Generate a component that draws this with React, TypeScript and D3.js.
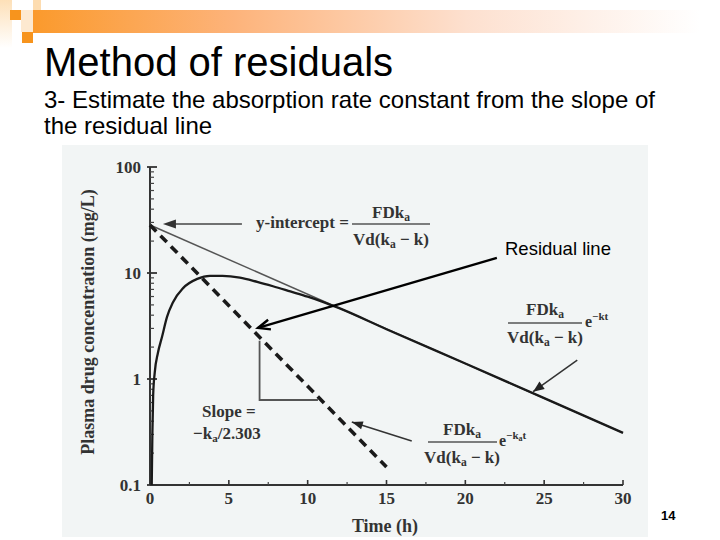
import React from "react";
import * as d3 from "d3";

// ---- data ----
const xTicks = [0, 5, 10, 15, 20, 25, 30];
const xMinorTicks = [2.5, 7.5, 12.5, 17.5, 22.5, 27.5];
const yTicks = [0.1, 1, 10, 100];
const yTickLabels = ["0.1", "1", "10", "100"];

// observed plasma curve (time h, conc mg/L)
const curveTime = [0.11, 0.15, 0.2, 0.3, 0.5, 0.76, 1.08, 1.46, 2.1, 3.0, 3.8, 4.6, 5.7, 6.8, 7.8, 8.9, 10, 11, 12, 15, 20, 25, 30];
const curveConc = [0.1, 0.3, 0.7, 1.15, 1.76, 2.49, 3.85, 5.3, 7.2, 8.8, 9.4, 9.4, 9.05, 8.25, 7.5, 6.7, 5.98, 5.32, 4.66, 2.95, 1.4, 0.66, 0.31];

// extrapolated terminal line
const terminalTime = [0, 30];
const terminalConc = [28.4, 0.31];

// residual line (dashed)
const residualTime = [0, 15];
const residualConc = [28.4, 0.148];

// slope triangle
const slopeTime = [6.95, 6.95, 10.65];
const slopeConc = [2.3, 0.634, 0.634];

const SERIF = "'Liberation Serif', 'Times New Roman', serif";
const SANS = "'Liberation Sans', Arial, sans-serif";

const x = d3.scaleLinear().domain([0, 30]).range([150, 623]);
const y = d3.scaleLog().domain([0.1, 100]).range([485, 167]);

const line = d3
  .line<[number, number]>()
  .x((d) => x(d[0]))
  .y((d) => y(d[1]));

const zip = (a: number[], b: number[]) => a.map((v, i) => [v, b[i]] as [number, number]);

function head(x1: number, y1: number, x2: number, y2: number, len: number, hw: number) {
  const a = Math.atan2(y2 - y1, x2 - x1);
  const bx = x2 - len * Math.cos(a);
  const by = y2 - len * Math.sin(a);
  const px = -Math.sin(a) * hw;
  const py = Math.cos(a) * hw;
  return `M${x2},${y2}L${bx + px},${by + py}L${bx - px},${by - py}Z`;
}
function openHead(x1: number, y1: number, x2: number, y2: number, len: number, hw: number) {
  const a = Math.atan2(y2 - y1, x2 - x1);
  const bx = x2 - len * Math.cos(a);
  const by = y2 - len * Math.sin(a);
  const px = -Math.sin(a) * hw;
  const py = Math.cos(a) * hw;
  return `M${bx + px},${by + py}L${x2},${y2}L${bx - px},${by - py}`;
}

const TXT = "#333";

function Frac({ cx, lineY, x1, x2, numY, denY, size }: any) {
  const sub = size * 0.68;
  return (
    <g fontFamily={SERIF} fontWeight="bold" fill={TXT} fontSize={size}>
      <text x={cx} y={numY} textAnchor="middle">
        FDk<tspan fontSize={sub} dy={3}>a</tspan>
      </text>
      <line x1={x1} x2={x2} y1={lineY} y2={lineY} stroke="#555" strokeWidth={1.3} />
      <text x={cx} y={denY} textAnchor="middle">
        Vd(k<tspan fontSize={sub} dy={3}>a</tspan>
        <tspan dy={-3}> − k)</tspan>
      </text>
    </g>
  );
}

export default function App() {
  const curvePts = zip(curveTime, curveConc);
  const termPts = zip(terminalTime, terminalConc);
  const resPts = zip(residualTime, residualConc);
  const slopePts = zip(slopeTime, slopeConc);
  const curvePath = d3
    .line<[number, number]>()
    .x((d) => x(d[0]))
    .y((d) => y(d[1]))
    .curve(d3.curveMonotoneX)(curvePts) as string;

  const minorY = y.ticks().filter((v) => !yTicks.some((t) => Math.abs(t - v) < 1e-9));

  // annotation anchors in data units
  const yi = { t1: 5.83, c1: 29, t2: 0.82, c2: 29 };
  const ra = { t1: 22.0, c1: 13.9, t2: 6.85, c2: 3.03 };
  const a2 = { t1: 27.1, c1: 1.51, t2: 24.3, c2: 0.76 };
  const a3 = { t1: 16.6, c1: 0.26, t2: 12.8, c2: 0.393 };

  return (
    <svg width={720} height={540} style={{ position: "absolute", left: 0, top: 0 }}>
      <defs>
        <linearGradient id="barGrad" x1="0" x2="1" y1="0" y2="0">
          <stop offset="0" stopColor="#fb9a2c" />
          <stop offset="0.3" stopColor="#fdb37a" />
          <stop offset="0.65" stopColor="#fde0cf" />
          <stop offset="1" stopColor="#ffffff" />
        </linearGradient>
        <linearGradient id="leftGrad" x1="0" x2="0" y1="0" y2="1">
          <stop offset="0" stopColor="#fde0b8" />
          <stop offset="1" stopColor="#ffffff" />
        </linearGradient>
      </defs>
      <rect width={720} height={540} fill="#ffffff" />
      {/* decoration */}
      <rect x={0} y={0} width={12} height={48} fill="url(#leftGrad)" />
      <rect x={33} y={0} width={8} height={10} fill="#fddcb0" />
      <rect x={21} y={10} width={12} height={22} fill="#fde9d0" />
      <rect x={10} y={10} width={11} height={10} fill="#f7941d" />
      <rect x={22} y={32} width={11} height={11} fill="#f7941d" />
      <rect x={33} y={10} width={667} height={23} fill="url(#barGrad)" />

      {/* titles */}
      <text x={44} y={76} fontFamily={SANS} fontSize={40} fill="#000">
        Method of residuals
      </text>
      <text x={44} y={108} fontFamily={SANS} fontSize={24} fill="#000">
        3- Estimate the absorption rate constant from the slope of
      </text>
      <text x={44} y={134} fontFamily={SANS} fontSize={24} fill="#000">
        the residual line
      </text>

      {/* figure panel */}
      <rect x={62} y={145} width={586} height={392} fill="#f2f5f5" />

      {/* axes */}
      <line x1={x(0)} x2={x(0)} y1={y(100)} y2={y(0.1)} stroke="#333" strokeWidth={2} />
      <line x1={x(0)} x2={x(30)} y1={y(0.1)} y2={y(0.1)} stroke="#333" strokeWidth={2} />
      {yTicks.map((t) => (
        <line key={"yt" + t} x1={x(0) - 3} x2={x(0) + 7} y1={y(t)} y2={y(t)} stroke="#333" strokeWidth={1.8} />
      ))}
      {minorY.map((t) => (
        <line key={"ym" + t} x1={x(0)} x2={x(0) + 4} y1={y(t)} y2={y(t)} stroke="#444" strokeWidth={1.2} />
      ))}
      {xTicks.map((t) => (
        <line key={"xt" + t} x1={x(t)} x2={x(t)} y1={y(0.1)} y2={y(0.1) - 5} stroke="#333" strokeWidth={1.6} />
      ))}
      {xMinorTicks.map((t) => (
        <line key={"xm" + t} x1={x(t)} x2={x(t)} y1={y(0.1)} y2={y(0.1) - 3} stroke="#444" strokeWidth={1.2} />
      ))}
      <g fontFamily={SERIF} fontWeight="bold" fontSize={17} fill={TXT}>
        {yTicks.map((t, i) => (
          <text key={"yl" + t} x={x(0) - 9} y={y(t) + 6} textAnchor="end">
            {yTickLabels[i]}
          </text>
        ))}
        {xTicks.map((t) => (
          <text key={"xl" + t} x={x(t)} y={y(0.1) + 19} textAnchor="middle">
            {t}
          </text>
        ))}
      </g>
      <text x={385} y={532} textAnchor="middle" fontFamily={SERIF} fontWeight="bold" fontSize={18} fill={TXT}>
        Time (h)
      </text>
      <text
        transform={`translate(94,322) rotate(-90)`}
        textAnchor="middle"
        fontFamily={SERIF}
        fontWeight="bold"
        fontSize={18}
        fill={TXT}
      >
        Plasma drug concentration (mg/L)
      </text>

      {/* lines */}
      <path d={line(termPts) as string} fill="none" stroke="#555" strokeWidth={1.5} />
      <path d={line(resPts) as string} fill="none" stroke="#1a1a1a" strokeWidth={3.6} strokeDasharray="9 6" />
      <path d={curvePath} fill="none" stroke="#1a1a1a" strokeWidth={2.3} />
      <path d={line(slopePts) as string} fill="none" stroke="#555" strokeWidth={1.8} />

      {/* y-intercept annotation */}
      <line x1={x(yi.t1)} y1={y(yi.c1)} x2={x(yi.t2) + 8} y2={y(yi.c2)} stroke="#444" strokeWidth={1.5} />
      <path d={head(x(yi.t1), y(yi.c1), x(yi.t2), y(yi.c2), 13, 4.5)} fill="#333" />
      <text x={256} y={228} fontFamily={SERIF} fontWeight="bold" fontSize={17} fill={TXT}>
        y-intercept =
      </text>
      <Frac cx={391} x1={352} x2={430} lineY={224} numY={218} denY={245} size={17} />

      {/* residual line annotation */}
      <line x1={x(ra.t1)} y1={y(ra.c1)} x2={x(ra.t2)} y2={y(ra.c2)} stroke="#000" strokeWidth={2.4} />
      <path d={openHead(x(ra.t1), y(ra.c1), x(ra.t2), y(ra.c2), 12, 5)} fill="none" stroke="#000" strokeWidth={2.4} />
      <text x={505} y={255} fontFamily={SANS} fontSize={18.5} fill="#000">
        Residual line
      </text>

      {/* terminal formula */}
      <Frac cx={545} x1={508} x2={582} lineY={323} numY={315} denY={343} size={17} />
      <text x={585} y={327} fontFamily={SERIF} fontWeight="bold" fontSize={16} fill={TXT}>
        e<tspan fontSize={11} dy={-7}>−kt</tspan>
      </text>
      <line x1={x(a2.t1)} y1={y(a2.c1)} x2={x(a2.t2)} y2={y(a2.c2)} stroke="#333" strokeWidth={1.5} />
      <path d={head(x(a2.t1), y(a2.c1), x(a2.t2), y(a2.c2), 11, 4.5)} fill="#222" />

      {/* slope text */}
      <g fontFamily={SERIF} fontWeight="bold" fontSize={17} fill={TXT}>
        <text x={202} y={417}>Slope =</text>
        <text x={193} y={439}>
          −k<tspan fontSize={11} dy={3}>a</tspan>
          <tspan dy={-3}>/2.303</tspan>
        </text>
      </g>

      {/* residual formula */}
      <Frac cx={462} x1={428} x2={497} lineY={442} numY={435} denY={463} size={17} />
      <text x={499} y={446} fontFamily={SERIF} fontWeight="bold" fontSize={16} fill={TXT}>
        e<tspan fontSize={11} dy={-7}>−k</tspan>
        <tspan fontSize={8} dy={2}>a</tspan>
        <tspan fontSize={11} dy={-2}>t</tspan>
      </text>
      <line x1={x(a3.t1)} y1={y(a3.c1)} x2={x(a3.t2)} y2={y(a3.c2)} stroke="#333" strokeWidth={1.5} />
      <path d={head(x(a3.t1), y(a3.c1), x(a3.t2), y(a3.c2), 11, 4)} fill="#222" />

      {/* page number */}
      <text x={661} y={520} fontFamily={SANS} fontWeight="bold" fontSize={13} fill="#000">
        14
      </text>
    </svg>
  );
}
